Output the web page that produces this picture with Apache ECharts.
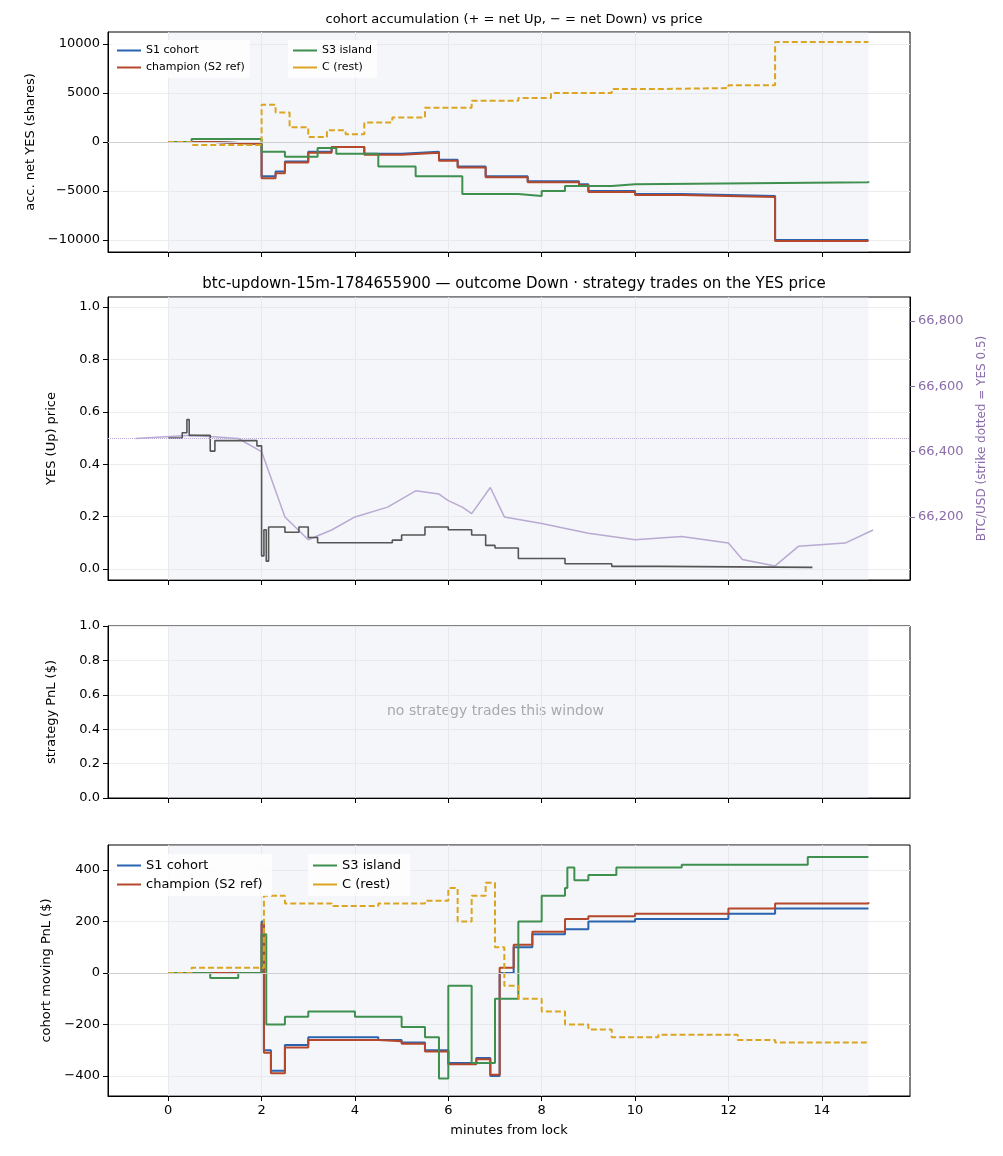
<!DOCTYPE html>
<html><head><meta charset="utf-8">
<script src="https://cdn.jsdelivr.net/npm/echarts@6/dist/echarts.min.js"></script>
<style>html,body{margin:0;padding:0;background:#fff}#c{width:1003px;height:1156px}</style>
</head><body><div id="c"></div>
<script>
// ---- data (minutes from lock, value) ----
const accS1 = [[0,0],[1.0,-200],[2.0,-3500],[2.3,-3000],[2.5,-2000],[3.0,-1000],[3.5,-500],[4.2,-1200],[5.0,-1000],[5.8,-1800],[6.2,-2500],[6.8,-3500],[7.7,-4000],[8.8,-4300],[9.0,-5000],[10,-5300],[11,-5500],[13.0,-10000],[15,-10000]];
const accChamp = [[0,0],[1.0,-200],[2.0,-3700],[2.3,-3200],[2.5,-2100],[3.0,-1100],[3.5,-500],[4.2,-1300],[5.0,-1100],[5.8,-1900],[6.2,-2600],[6.8,-3600],[7.7,-4100],[8.8,-4400],[9.0,-5100],[10,-5400],[11,-5600],[13.0,-10100],[15,-10100]];
const accS3 = [[0,0],[0.5,300],[2.0,-1000],[2.5,-1500],[3.2,-600],[3.6,-1200],[4.5,-2500],[5.3,-3500],[6.3,-5300],[7.5,-5500],[8.0,-5000],[8.5,-4500],[9.5,-4300],[10,-4100],[15,-4000]];
const accC = [[0,0],[0.5,-300],[2.0,3800],[2.3,3000],[2.6,1500],[3.0,500],[3.4,1200],[3.8,800],[4.2,2000],[4.8,2500],[5.5,3500],[6.5,4200],[7.5,4500],[8.2,5000],[9.5,5400],[10.5,5500],[12,5800],[13.0,10200],[15,10200]];
const yesPrice = [[0,0.5],[0.3,0.52],[0.4,0.57],[0.45,0.51],[0.9,0.45],[1.0,0.49],[1.9,0.47],[2.0,0.05],[2.05,0.15],[2.1,0.03],[2.15,0.16],[2.5,0.14],[2.8,0.16],[3.0,0.12],[3.2,0.1],[4.8,0.11],[5.0,0.13],[5.5,0.16],[6.0,0.15],[6.5,0.13],[6.8,0.09],[7.0,0.08],[7.5,0.04],[8.5,0.02],[9.5,0.01],[10.5,0.006],[13.8,0.005]];
const btc = [[-0.7,66440],[0.5,66450],[1.5,66440],[2.0,66400],[2.5,66200],[3.0,66130],[3.5,66160],[4.0,66200],[4.7,66230],[5.3,66280],[5.8,66270],[6.0,66250],[6.3,66230],[6.5,66210],[6.9,66290],[7.2,66200],[8.0,66180],[9.0,66150],[10.0,66130],[11.0,66140],[12.0,66120],[12.3,66070],[13.0,66050],[13.5,66110],[14.5,66120],[15.1,66160]];
const pnlS1 = [[0,0],[1.9,0],[2.0,200],[2.05,-300],[2.2,-380],[2.5,-280],[3.0,-250],[4.5,-260],[5.0,-270],[5.5,-300],[6.0,-350],[6.6,-330],[6.9,-400],[7.1,0],[7.4,100],[7.8,150],[8.5,170],[9.0,200],[10,210],[12,230],[13,250],[15,250]];
const pnlChamp = [[0,0],[1.9,0],[2.0,190],[2.05,-310],[2.2,-390],[2.5,-290],[3.0,-260],[4.5,-265],[5.0,-275],[5.5,-305],[6.0,-355],[6.6,-335],[6.9,-395],[7.1,20],[7.4,110],[7.8,160],[8.5,210],[9.0,220],[10,230],[12,250],[13,270],[15,275]];
const pnlS3 = [[0,0],[0.9,-20],[1.5,0],[2.0,150],[2.1,-200],[2.5,-170],[3.0,-150],[4.0,-170],[5.0,-210],[5.5,-250],[5.8,-410],[6.0,-50],[6.5,-350],[7.0,-100],[7.5,200],[8.0,300],[8.5,330],[8.55,410],[8.7,360],[9.0,380],[9.6,410],[11,420],[13.7,450],[15,450]];
const pnlC = [[0,0],[0.5,20],[1.9,20],[2.05,300],[2.5,270],[3.5,260],[4.5,270],[5.5,280],[6.0,330],[6.2,200],[6.5,300],[6.8,350],[7.0,100],[7.2,-50],[7.5,-100],[8.0,-150],[8.5,-200],[9.0,-220],[9.5,-250],[10.5,-240],[12,-240],[12.2,-260],[13,-270],[15,-270]];
const xTicks = [0,2,4,6,8,10,12,14];
const accTicks = [-10000,-5000,0,5000,10000];
const priceTicks = [0,0.2,0.4,0.6,0.8,1.0];
const btcTicks = [66200,66400,66600,66800];
const pnlTicks = [-400,-200,0,200,400];

const col = {s1:'#2a63b0', ch:'#b5472a', s3:'#3f8f4f', c:'#dba521'};
const F = 'DejaVu Sans';
function xAx(i, showLabel){
  return {type:'value', gridIndex:i, min:-1.29, max:15.89,
    axisLine:{onZero:false, show:true, lineStyle:{color:'#000'}},
    axisTick:{show:true, customValues:xTicks, lineStyle:{color:'#000'}},
    axisLabel:{show:showLabel, customValues:xTicks, color:'#000', fontFamily:F, fontSize:13},
    splitLine:{show:true, lineStyle:{color:'#ececec'}},
    name: showLabel ? 'minutes from lock' : '', nameLocation:'middle', nameGap:28,
    nameTextStyle:{color:'#000', fontFamily:F, fontSize:13}};
}
function yAx(i, min, max, ticks, name, fmt, gap){
  return {type:'value', gridIndex:i, min, max,
    axisLine:{show:true, onZero:false, lineStyle:{color:'#000'}},
    axisTick:{show:true, customValues:ticks, lineStyle:{color:'#000'}},
    axisLabel:{customValues:ticks, color:'#000', fontFamily:F, fontSize:13, formatter:fmt},
    splitLine:{show:true, lineStyle:{color:'#ececec'}},
    name, nameLocation:'middle', nameGap:gap, nameTextStyle:{color:'#000', fontFamily:F, fontSize:13}};
}
const shade = {silent:true, itemStyle:{color:'rgba(225,229,242,0.35)'}, data:[[{xAxis:0},{xAxis:15}]]};
function ln(name, data, color, xi, yi, dashed, extra){
  return Object.assign({type:'line', name, data, xAxisIndex:xi, yAxisIndex:yi, step:'end', showSymbol:false, symbol:'none',
    lineStyle:{color, width:2, type: dashed?[6,3]:'solid'}, itemStyle:{color}}, extra||{});
}
const zeroLine = {silent:true, symbol:'none', label:{show:false}, lineStyle:{color:'#cfcfcf', type:'solid', width:1}, data:[{yAxis:0}]};
function leg(names, left, top, fs){
  return {data:names, left, top, orient:'vertical', itemWidth:24, itemHeight:10, itemGap:6,
    textStyle:{fontFamily:F, fontSize:fs, color:'#000'}, icon:'path://M0,4 L24,4 L24,6 L0,6 Z',
    backgroundColor:'rgba(255,255,255,0.8)'};
}
function g(top,h){return {left:108, top, width:802, height:h, show:true, borderColor:'#000', borderWidth:1, backgroundColor:'transparent'};}
const num = v => String(v).replace('-','−');
const option = {
  animation:false, backgroundColor:'#fff',
  title:[
    {text:'cohort accumulation (+ = net Up, − = net Down) vs price', left:509, top:8, textAlign:'center', textStyle:{fontFamily:F, fontSize:13, fontWeight:'normal', color:'#000'}},
    {text:'btc-updown-15m-1784655900 — outcome Down · strategy trades on the YES price', left:509, top:272, textAlign:'center', textStyle:{fontFamily:F, fontSize:15, fontWeight:'normal', color:'#000'}}
  ],
  grid:[g(32,220), g(297,283), g(626,172), g(845,251)],
  legend:[
    leg(['S1 cohort','champion (S2 ref)'],112,40,11),
    leg(['S3 island','C (rest)'],288,40,11),
    leg(['S1 cohort ','champion (S2 ref) '],112,854,13),
    leg(['S3 island ','C (rest) '],308,854,13)
  ],
  xAxis:[xAx(0,false), xAx(1,false), xAx(2,false), xAx(3,true)],
  yAxis:[
    yAx(0,-11220,11220,accTicks,'acc. net YES (shares)',num,62),
    yAx(1,-0.042,1.038,priceTicks,'YES (Up) price',v=>v.toFixed(1),50),
    {type:'value', gridIndex:1, position:'right', min:66007, max:66873,
      axisLine:{show:true, onZero:false, lineStyle:{color:'#000'}}, axisTick:{show:true, customValues:btcTicks, lineStyle:{color:'#8a6ca8'}},
      axisLabel:{customValues:btcTicks, color:'#8a6ca8', fontFamily:F, fontSize:13},
      splitLine:{show:false}, name:'BTC/USD (strike dotted = YES 0.5)', nameLocation:'middle', nameGap:66,
      nameTextStyle:{color:'#8a6ca8', fontFamily:F, fontSize:12}},
    yAx(2,0,1,[0,0.2,0.4,0.6,0.8,1.0],'strategy PnL ($)',v=>v.toFixed(1),50),
    yAx(3,-478,497,pnlTicks,'cohort moving PnL ($)',num,54)
  ],
  series:[
    ln('S1 cohort', accS1, col.s1, 0, 0, false, {markArea:shade, markLine:zeroLine}),
    ln('champion (S2 ref)', accChamp, col.ch, 0, 0, false),
    ln('S3 island', accS3, col.s3, 0, 0, false),
    ln('C (rest)', accC, col.c, 0, 0, true),
    ln('btc', btc, '#b9a9d3', 1, 2, false, {step:false, lineStyle:{color:'#b9a9d3', width:1.5}, markArea:shade,
      markLine:{silent:true, symbol:'none', label:{show:false}, lineStyle:{color:'#b9a9d3', type:'dotted', width:1}, data:[{yAxis:66442}]}}),
    ln('yes', yesPrice, '#555', 1, 1, false, {lineStyle:{color:'#555', width:1.6}}),
    {type:'line', data:[], xAxisIndex:2, yAxisIndex:3, markArea:shade},
    ln('S1 cohort ', pnlS1, col.s1, 3, 4, false, {markArea:shade, markLine:zeroLine}),
    ln('champion (S2 ref) ', pnlChamp, col.ch, 3, 4, false),
    ln('S3 island ', pnlS3, col.s3, 3, 4, false),
    ln('C (rest) ', pnlC, col.c, 3, 4, true)
  ],
  graphic:[{type:'text', left:387, top:704, style:{text:'no strategy trades this window', fill:'#888', font:'14px "DejaVu Sans"'}}]
};
const ch = echarts.init(document.getElementById('c'));
ch.setOption(option);
</script></body></html>
